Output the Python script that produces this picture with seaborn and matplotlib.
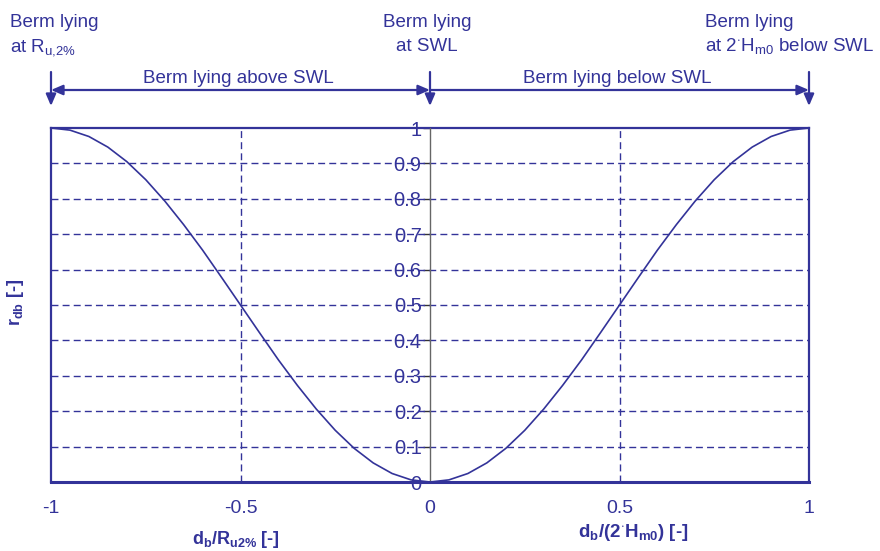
import matplotlib
matplotlib.use("Agg")
import matplotlib.pyplot as plt
import seaborn as sns
import pandas as pd

# ---- data ----
x_below = [0.0, 0.05, 0.10, 0.15, 0.20, 0.25, 0.30, 0.35, 0.40, 0.45, 0.50,
           0.55, 0.60, 0.65, 0.70, 0.75, 0.80, 0.85, 0.90, 0.95, 1.0]
r_below = [0.0, 0.006, 0.024, 0.054, 0.095, 0.146, 0.206, 0.273, 0.345, 0.422, 0.5,
           0.578, 0.655, 0.727, 0.794, 0.854, 0.905, 0.946, 0.976, 0.994, 1.0]
x_above = [-1.0, -0.95, -0.90, -0.85, -0.80, -0.75, -0.70, -0.65, -0.60, -0.55, -0.50,
           -0.45, -0.40, -0.35, -0.30, -0.25, -0.20, -0.15, -0.10, -0.05, 0.0]
r_above = [1.0, 0.994, 0.976, 0.946, 0.905, 0.854, 0.794, 0.727, 0.655, 0.578, 0.5,
           0.422, 0.345, 0.273, 0.206, 0.146, 0.095, 0.054, 0.024, 0.006, 0.0]
x_ticks = [-1, -0.5, 0, 0.5, 1]
x_tick_labels = ["-1", "-0.5", "0", "0.5", "1"]
y_ticks = [0, 0.1, 0.2, 0.3, 0.4, 0.5, 0.6, 0.7, 0.8, 0.9, 1]
y_tick_labels = ["0", "0.1", "0.2", "0.3", "0.4", "0.5", "0.6", "0.7", "0.8", "0.9", "1"]

df = pd.DataFrame({"x": x_above + x_below[1:], "r": r_above + r_below[1:]})

BLUE = "#333399"
sns.set_style("white")
plt.rcParams["font.family"] = ["Liberation Sans", "DejaVu Sans"]
plt.rcParams["mathtext.fontset"] = "custom"
plt.rcParams["mathtext.rm"] = "Liberation Sans"
plt.rcParams["mathtext.it"] = "Liberation Sans:italic"
plt.rcParams["mathtext.bf"] = "Liberation Sans:bold"

W, H = 880, 551
fig = plt.figure(figsize=(8.8, 5.51), dpi=100)
ax = fig.add_axes([51 / W, 1 - 482 / H, (809 - 51) / W, (482 - 128) / H])

sns.lineplot(data=df, x="x", y="r", ax=ax, color=BLUE, linewidth=1.2, sort=False, zorder=4)

ax.set_xlim(-1, 1)
ax.set_ylim(0, 1)
ax.set_xlabel("")
ax.set_ylabel("")

# grid
for yv in y_ticks[1:-1]:
    ax.axhline(yv, color=BLUE, lw=1.0, dashes=(5, 3), zorder=1)
for xv in [-0.5, 0.5]:
    ax.axvline(xv, color=BLUE, lw=1.0, dashes=(5, 3), zorder=1)

# frame
for s in ["top", "left", "right"]:
    ax.spines[s].set_color(BLUE)
    ax.spines[s].set_linewidth(1.6)
ax.spines["bottom"].set_color(BLUE)
ax.spines["bottom"].set_linewidth(2.2)
ax.tick_params(axis="y", left=False, labelleft=False, right=False, labelright=False)
ax.set_xticks(x_ticks)
ax.set_xticklabels(x_tick_labels)
ax.tick_params(axis="x", direction="out", length=5, width=1, color="#555555",
               labelcolor=BLUE, labelsize=14, pad=8)

# central y axis
sec = ax.secondary_yaxis(0.5)
sec.spines["left"].set_visible(False)
sec.spines["right"].set_visible(False)
sec.yaxis.set_ticks_position("left")
sec.yaxis.set_label_position("left")
sec.set_yticks(y_ticks)
sec.set_yticklabels(y_tick_labels)
sec.tick_params(axis="y", which="both", left=True, labelleft=True, right=False, labelright=False,
                direction="out", length=5, width=1, color="#333333",
                labelcolor=BLUE, labelsize=14.5, pad=1)
ax.axvline(0, color="#666666", lw=1.0, zorder=3)

# labels
fig.text(15 / W, 1 - 302 / H, r"r$_{\mathbf{db}}$ [-]", rotation=90, ha="center", va="center",
         fontsize=13, fontweight="bold", color=BLUE)
fig.text(236 / W, 1 - 544 / H, r"d$_{\mathbf{b}}$/R$_{\mathbf{u2\%}}$ [-]", ha="center", va="baseline",
         fontsize=13, fontweight="bold", color=BLUE)
fig.text(633 / W, 1 - 537 / H, r"d$_{\mathbf{b}}$/(2$^{\mathbf{\cdot}}$H$_{\mathbf{m0}}$) [-]", ha="center",
         va="baseline", fontsize=13.5, fontweight="bold", color=BLUE)

# top annotations
def ftext(px, py, s, ha="left"):
    fig.text(px / W, 1 - py / H, s, ha=ha, va="baseline", fontsize=13.5, color=BLUE)

ftext(10, 27, "Berm lying")
ftext(10, 51, r"at R$_{\mathrm{u{,}2\%}}$")
ftext(427, 27, "Berm lying", ha="center")
ftext(427, 51, "at SWL", ha="center")
ftext(705, 27, "Berm lying")
ftext(705, 51, r"at 2$^{\cdot}$H$_{\mathrm{m0}}$ below SWL")
ftext(238, 83, "Berm lying above SWL", ha="center")
ftext(617, 83, "Berm lying below SWL", ha="center")

tr = ax.get_xaxis_transform()
y_h = (482 - 90) / 354
arrow_kw = dict(arrowstyle="-|>,head_length=0.7,head_width=0.3", color=BLUE, lw=1.6,
                shrinkA=0, shrinkB=0)
ax.annotate("", xy=(-1, y_h), xytext=(0, y_h), xycoords=tr, textcoords=tr,
            arrowprops=dict(arrowstyle="<|-|>,head_length=0.7,head_width=0.3", color=BLUE, lw=1.6,
                            shrinkA=0, shrinkB=0), annotation_clip=False)
ax.annotate("", xy=(1, y_h), xytext=(0, y_h), xycoords=tr, textcoords=tr,
            arrowprops=arrow_kw, annotation_clip=False)
y_top = (482 - 72) / 354
y_bot = (482 - 106) / 354
for xv in [-1, 0, 1]:
    ax.annotate("", xy=(xv, y_bot), xytext=(xv, y_top), xycoords=tr, textcoords=tr,
                arrowprops=arrow_kw, annotation_clip=False)

fig.savefig("out.png", dpi=100)
